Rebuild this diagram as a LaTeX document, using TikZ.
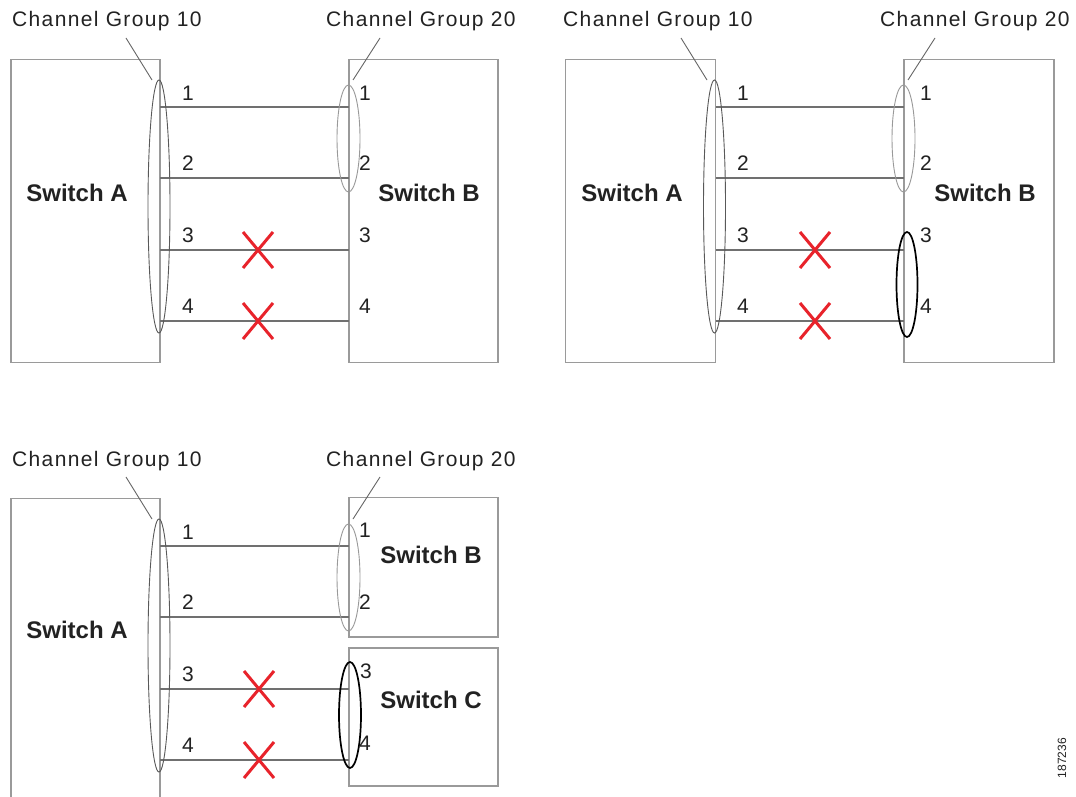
\documentclass[tikz,border=0pt]{standalone}
\usepackage{fontspec}
\setmainfont{Liberation Sans}
\newfontfamily\cgfont[LetterSpace=6.5]{Liberation Sans}
\usetikzlibrary{shapes.geometric,shapes.misc}
\definecolor{boxgray}{HTML}{9A9A9A}
\definecolor{linkgray}{HTML}{707070}
\definecolor{txtgray}{HTML}{222222}
\definecolor{xred}{HTML}{E8232B}

\begin{document}
\begin{tikzpicture}[x=1pt,y=-1pt,
	box/.style={draw=boxgray, line width=1.8pt, inner sep=0pt, minimum width=149pt},
	link/.style={draw=linkgray, line width=1.3pt},
	grp/.style={ellipse, draw=black!65, line width=0.9pt, inner sep=0pt},
	grpdim/.style={ellipse, draw=black!40, line width=0.9pt, inner sep=0pt},
	grpnew/.style={ellipse, draw=black, line width=1.7pt, inner sep=0pt},
	brk/.style={cross out, draw=xred, line width=3pt, inner sep=0pt, minimum width=27pt, minimum height=33pt},
	port/.style={text=txtgray, font=\fontsize{21}{21}\selectfont, inner sep=0pt},
	swname/.style={text=txtgray, font=\fontsize{24}{24}\selectfont\bfseries, inner sep=0pt},
	cgname/.style={text=txtgray, font=\fontsize{21}{21}\selectfont\cgfont, inner sep=0pt, anchor=base west},
	lead/.style={draw=black!60, line width=0.9pt}]
	\useasboundingbox (0,0) rectangle (1076,797);
	\fill[white] (0,0) rectangle (1076,797);

	%%%% top left
	\node[box, minimum height=303pt] (swA1) at (85.5,211) {};
	\node[box, minimum height=303pt] (swB1) at (423.5,211) {};
	\node[swname] (tA1) at (77,193) {Switch A};
	\node[swname] (tB1) at (429,193) {Switch B};
	%ports
	\coordinate (a11) at (160,107); \coordinate (b11) at (349,107);
	\coordinate (a12) at (160,178); \coordinate (b12) at (349,178);
	\coordinate (a13) at (160,250); \coordinate (b13) at (349,250);
	\coordinate (a14) at (160,321); \coordinate (b14) at (349,321);
	\draw[link] (a11) -- (b11);	%link 1
	\draw[link] (a12) -- (b12);	%link 2
	\draw[link] (a13) -- (b13);	%link 3
	\draw[link] (a14) -- (b14);	%link 4
	%groups
	\node[grp, minimum width=22pt, minimum height=253pt] (g10a) at (159,206.5) {};
	\node[grpdim, minimum width=23pt, minimum height=107pt] (g20a) at (348.5,138.5) {};
	%broken links
	\node[brk] (x13) at (258,250) {};
	\node[brk] (x14) at (258,321) {};
	%port numbers
	\node[port] (na11) at (188,93) {1};
	\node[port] (na12) at (188,163) {2};
	\node[port] (na13) at (188,235) {3};
	\node[port] (na14) at (188,306) {4};
	\node[port] (nb11) at (365,93) {1};
	\node[port] (nb12) at (365,163) {2};
	\node[port] (nb13) at (365,235) {3};
	\node[port] (nb14) at (365,306) {4};
	%channel group labels
	\node[cgname] (cg10a) at (12,27) {Channel Group 10};
	\node[cgname] (cg20a) at (326,27) {Channel Group 20};
	\coordinate (l10a) at (126,38); \coordinate (e10a) at (152,80);
	\coordinate (l20a) at (380,38); \coordinate (e20a) at (353,80);
	\draw[lead] (l10a) -- (e10a);
	\draw[lead] (l20a) -- (e20a);

	%%%% top right
	\node[box, minimum width=150pt, minimum height=303pt] (swA2) at (640.5,211) {};
	\node[box, minimum width=150pt, minimum height=303pt] (swB2) at (979,211) {};
	\node[swname] (tA2) at (632,193) {Switch A};
	\node[swname] (tB2) at (985,193) {Switch B};
	%ports
	\coordinate (a21) at (715.5,107); \coordinate (b21) at (904,107);
	\coordinate (a22) at (715.5,178); \coordinate (b22) at (904,178);
	\coordinate (a23) at (715.5,250); \coordinate (b23) at (904,250);
	\coordinate (a24) at (715.5,321); \coordinate (b24) at (904,321);
	\draw[link] (a21) -- (b21);	%link 1
	\draw[link] (a22) -- (b22);	%link 2
	\draw[link] (a23) -- (b23);	%link 3
	\draw[link] (a24) -- (b24);	%link 4
	%groups
	\node[grp, minimum width=22pt, minimum height=253pt] (g10b) at (714.5,206.5) {};
	\node[grpdim, minimum width=23pt, minimum height=107pt] (g20b) at (903.5,138.5) {};
	\node[grpnew, minimum width=21pt, minimum height=105pt] (g20c) at (907,284.5) {};
	%broken links
	\node[brk] (x23) at (815,250) {};
	\node[brk] (x24) at (815,321) {};
	%port numbers
	\node[port] (na21) at (743,93) {1};
	\node[port] (na22) at (743,163) {2};
	\node[port] (na23) at (743,235) {3};
	\node[port] (na24) at (743,306) {4};
	\node[port] (nb21) at (926,93) {1};
	\node[port] (nb22) at (926,163) {2};
	\node[port] (nb23) at (926,235) {3};
	\node[port] (nb24) at (926,306) {4};
	%channel group labels
	\node[cgname] (cg10b) at (563,27) {Channel Group 10};
	\node[cgname] (cg20b) at (880,27) {Channel Group 20};
	\coordinate (l10b) at (681,38); \coordinate (e10b) at (707,80);
	\coordinate (l20b) at (935,38); \coordinate (e20b) at (908,80);
	\draw[lead] (l10b) -- (e10b);
	\draw[lead] (l20b) -- (e20b);

	%%%% bottom left
	\node[box, minimum height=331.5pt] (swA3) at (85.5,664.25) {};
	\node[box, minimum height=139.5pt] (swB3) at (423.5,567.25) {};
	\node[box, minimum height=138pt] (swC3) at (423.5,717) {};
	\node[swname] (tA3) at (77,630) {Switch A};
	\node[swname] (tB3) at (431,555) {Switch B};
	\node[swname] (tC3) at (431,700) {Switch C};
	%ports
	\coordinate (a31) at (160,546); \coordinate (b31) at (349,546);
	\coordinate (a32) at (160,617); \coordinate (b32) at (349,617);
	\coordinate (a33) at (160,689); \coordinate (c33) at (349,689);
	\coordinate (a34) at (160,760); \coordinate (c34) at (349,760);
	\draw[link] (a31) -- (b31);	%link 1
	\draw[link] (a32) -- (b32);	%link 2
	\draw[link] (a33) -- (c33);	%link 3
	\draw[link] (a34) -- (c34);	%link 4
	%groups
	\node[grp, minimum width=22pt, minimum height=253pt] (g10d) at (159,645.5) {};
	\node[grpdim, minimum width=23pt, minimum height=107pt] (g20d) at (348.5,577.5) {};
	\node[grpnew, minimum width=22pt, minimum height=106pt] (g20e) at (350,715) {};
	%broken links
	\node[brk] (x33) at (259,689) {};
	\node[brk] (x34) at (259,760) {};
	%port numbers
	\node[port] (na31) at (188,532) {1};
	\node[port] (na32) at (188,602) {2};
	\node[port] (na33) at (188,674) {3};
	\node[port] (na34) at (188,745) {4};
	\node[port] (nb31) at (365,530) {1};
	\node[port] (nb32) at (365,602) {2};
	\node[port] (nc33) at (366,671) {3};
	\node[port] (nc34) at (365,743) {4};
	%channel group labels
	\node[cgname] (cg10d) at (12,466) {Channel Group 10};
	\node[cgname] (cg20d) at (326,466) {Channel Group 20};
	\coordinate (l10d) at (126,477); \coordinate (e10d) at (152,519);
	\coordinate (l20d) at (380,477); \coordinate (e20d) at (353,519);
	\draw[lead] (l10d) -- (e10d);
	\draw[lead] (l20d) -- (e20d);

	%figure number
	\node[text=txtgray, font=\fontsize{12}{12}\selectfont, rotate=90, inner sep=0pt] (fig) at (1062,758) {187236};
\end{tikzpicture}
\end{document}
